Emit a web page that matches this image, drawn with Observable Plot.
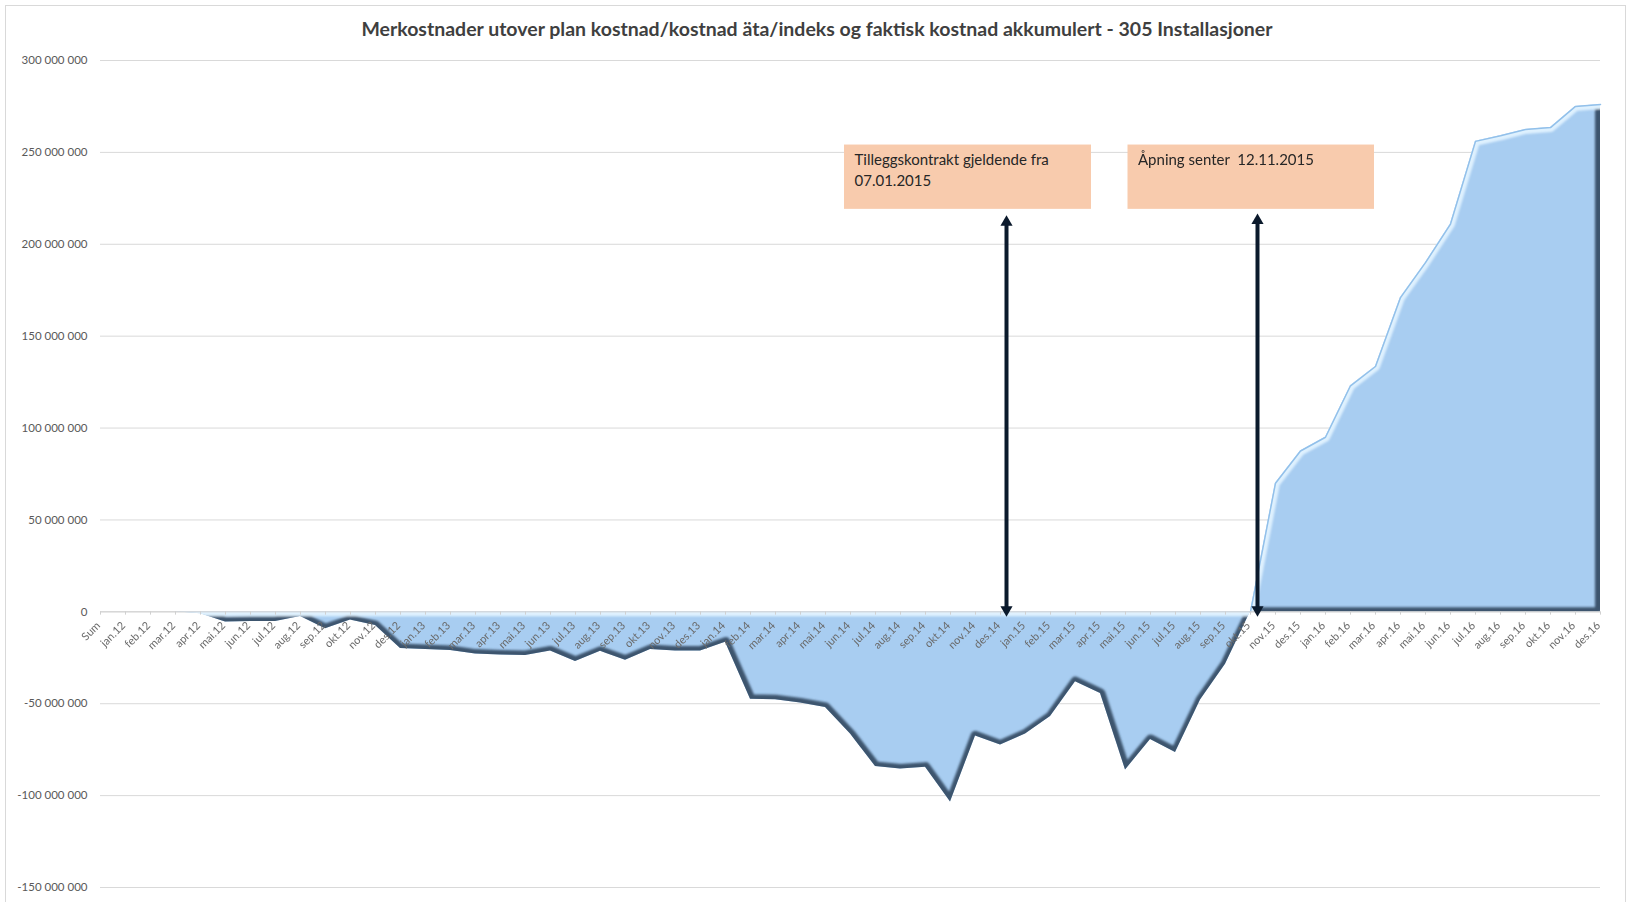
<!DOCTYPE html>
<html>
<head>
<meta charset="utf-8">
<script src="https://cdn.jsdelivr.net/npm/d3@7"></script>
<script src="https://cdn.jsdelivr.net/npm/@observablehq/plot@0.6"></script>
<style>
  body { margin: 0; background: #fff; font-family: Lato, "Open Sans", sans-serif; }
  #wrap { position: relative; width: 1627px; height: 902px; overflow: hidden; }
  #frame { position: absolute; left: 5px; top: 5px; width: 1621px; height: 1000px;
           border: 1px solid #d9d9d9; box-sizing: border-box; }
  #title { position: relative; height: 45px; box-sizing: border-box; padding: 18px 0 0 7px;
           text-align: center; font-weight: bold; font-size: 19.5px; line-height: 22px; color: #3f3f3f; }
  #chart { position: relative; }
</style>
</head>
<body>
<div id="wrap">
  <div id="frame"></div>
  <div id="title">Merkostnader utover plan kostnad/kostnad äta/indeks og faktisk kostnad akkumulert - 305 Installasjoner</div>
  <div id="chart"></div>
</div>
<script>
// Periods on the category axis
const periods = [
  "Sum",
  "jan.12", "feb.12", "mar.12", "apr.12", "mai.12", "jun.12", "jul.12", "aug.12", "sep.12", "okt.12", "nov.12", "des.12",
  "jan.13", "feb.13", "mar.13", "apr.13", "mai.13", "jun.13", "jul.13", "aug.13", "sep.13", "okt.13", "nov.13", "des.13",
  "jan.14", "feb.14", "mar.14", "apr.14", "mai.14", "jun.14", "jul.14", "aug.14", "sep.14", "okt.14", "nov.14", "des.14",
  "jan.15", "feb.15", "mar.15", "apr.15", "mai.15", "jun.15", "jul.15", "aug.15", "sep.15", "okt.15", "nov.15", "des.15",
  "jan.16", "feb.16", "mar.16", "apr.16", "mai.16", "jun.16", "jul.16", "aug.16", "sep.16", "okt.16", "nov.16", "des.16"
];

// Accumulated extra cost (NOK) per period
const merkostnad = [
  0,
  0, 0, 0, -1000000, -5500000, -5300000, -5200000, -2500000, -9200000, -4500000, -7500000, -20000000,
  -20500000, -21000000, -23000000, -23500000, -23700000, -21300000, -27000000, -21500000, -26300000, -20500000, -21300000, -21300000,
  -16500000, -47500000, -47800000, -49600000, -52000000, -66500000, -84200000, -85500000, -84500000, -103500000, -67500000, -72500000,
  -66500000, -57000000, -38000000, -44500000, -86000000, -69500000, -76500000, -48000000, -28500000, 0, 70000000, 87500000,
  95000000, 123000000, 133500000, 171000000, 190000000, 211000000, 256000000, 259000000, 262500000, 263500000, 275000000, 276000000
];

// Value axis ticks
const yTicks = [300000000, 250000000, 200000000, 150000000, 100000000, 50000000, 0, -50000000, -100000000, -150000000];

// Callout boxes and their arrows (positions in period index / NOK)
const noteText = ["Tilleggskontrakt gjeldende fra\n07.01.2015", "Åpning senter  12.11.2015"];
const noteX1 = [29.76, 41.1];
const noteX2 = [39.64, 50.96];
const noteTop = [254000000, 254000000];
const noteBottom = [219000000, 219000000];
const arrowX = [36.24, 46.28];
const arrowTop = [212000000, 213000000];

const rows = periods.map((period, i) => ({i, period, value: merkostnad[i]}));
const last = rows.length - 1;
const turn = merkostnad.findIndex((v, i) => i < last && merkostnad[i + 1] > 0);
const notes = noteText.map((text, k) => ({
  text, x1: noteX1[k], x2: noteX2[k], top: noteTop[k], bottom: noteBottom[k],
  ax: arrowX[k], atop: arrowTop[k]
}));

const fmt = v => (v < 0 ? "-" : "") + d3.format(",")(Math.abs(v)).replace(/,/g, " ");
const tickLen = 1800000;

// render hook that tags a mark's group with a class name
const tag = cls => (index, scales, values, dimensions, context, next) => {
  const g = next(index, scales, values, dimensions, context);
  if (g) g.classList.add(cls);
  return g;
};

const dark = "#3d556e";
const light = "#dff1fe";
const arrowColor = "#0b1a2c";

const chart = Plot.plot({
  width: 1627,
  height: 857,
  marginLeft: 100,
  marginRight: 27,
  marginTop: 15,
  marginBottom: 15,
  x: {domain: [0, 60], axis: null},
  y: {domain: [-150000000, 300000000], axis: null},
  style: {fontFamily: "Lato, 'Open Sans', sans-serif", background: "transparent", overflow: "visible"},
  marks: [
    Plot.ruleY(yTicks, {stroke: "#d9d9d9", strokeWidth: 1}),
    Plot.text(yTicks, {y: d => d, text: fmt, frameAnchor: "left", textAnchor: "end", dx: -13, fill: "#595959", fontSize: 11.5}),
    Plot.areaY(rows, {x: "i", y1: 0, y2: "value", fill: "#a8cdf1", render: tag("cost-area")}),
    // bevel shading: dark on edges facing down/right, light on edges facing up/left
    Plot.line(rows.filter(d => d.i <= turn), {x: "i", y: "value", z: null, stroke: dark, strokeWidth: 10, render: tag("bevel")}),
    Plot.ruleX([rows[last]], {x: "i", y1: 0, y2: "value", stroke: dark, strokeWidth: 11, render: tag("bevel")}),
    Plot.ruleY([0], {x1: turn, x2: last, stroke: dark, strokeWidth: 9, render: tag("bevel")}),
    Plot.line(rows.filter(d => d.i >= turn), {x: "i", y: "value", z: null, stroke: light, strokeWidth: 9, render: tag("bevel")}),
    Plot.ruleY([0], {x1: 0, x2: turn, stroke: light, strokeWidth: 9, render: tag("bevel")}),
    Plot.line(rows.filter(d => d.i >= turn), {x: "i", y: "value", z: null, stroke: "#92c0ea", strokeWidth: 1.5}),
    // category axis along zero
    Plot.ruleY([0], {x1: 0, x2: last, stroke: "#d0d0d0", strokeWidth: 1}),
    Plot.ruleX(rows, {x: "i", y1: 0, y2: -tickLen, stroke: "#d0d0d0"}),
    Plot.text(rows, {x: "i", y: 0, text: "period", rotate: -45, textAnchor: "end", dx: -2, dy: 12, fill: "#6a6a6a", fontSize: 11}),
    // callouts
    Plot.rect(notes, {x1: "x1", x2: "x2", y1: "bottom", y2: "top", fill: "#f8cbad"}),
    Plot.text(notes, {x: "x1", y: "top", text: "text", textAnchor: "start", lineAnchor: "top", dx: 10, dy: 6, fontSize: 15, lineHeight: 1.35, fill: "#262626"}),
    Plot.ruleX(notes, {x: "ax", y1: 0, y2: "atop", stroke: arrowColor, strokeWidth: 4}),
    Plot.dot(notes, {x: "ax", y: "atop", symbol: "triangle", r: 4.5, fill: arrowColor, stroke: "none"}),
    Plot.dot(notes, {x: "ax", y: 0, symbol: "triangle", rotate: 180, r: 4.5, dy: -2, fill: arrowColor, stroke: "none"})
  ]
});

// Clip the bevel strokes to the filled shape and soften them
(function bevel(svg) {
  const ns = "http://www.w3.org/2000/svg";
  const areaG = svg.querySelector("g.cost-area");
  const areaPath = areaG && areaG.querySelector("path");
  const bevels = svg.querySelectorAll("g.bevel");
  if (!areaPath || !bevels.length) return;
  const defs = document.createElementNS(ns, "defs");
  const clip = document.createElementNS(ns, "clipPath");
  clip.setAttribute("id", "area-clip");
  const cp = document.createElementNS(ns, "path");
  cp.setAttribute("d", areaPath.getAttribute("d"));
  const t = [areaG.getAttribute("transform"), areaPath.getAttribute("transform")].filter(Boolean).join(" ");
  if (t) cp.setAttribute("transform", t);
  clip.appendChild(cp);
  const filter = document.createElementNS(ns, "filter");
  filter.setAttribute("id", "bevel-soft");
  filter.setAttribute("x", "-5%"); filter.setAttribute("y", "-5%");
  filter.setAttribute("width", "110%"); filter.setAttribute("height", "110%");
  const blur = document.createElementNS(ns, "feGaussianBlur");
  blur.setAttribute("stdDeviation", "1.3");
  filter.appendChild(blur);
  defs.appendChild(clip);
  defs.appendChild(filter);
  svg.insertBefore(defs, svg.firstChild);
  const outer = document.createElementNS(ns, "g");
  outer.setAttribute("clip-path", "url(#area-clip)");
  const inner = document.createElementNS(ns, "g");
  inner.setAttribute("filter", "url(#bevel-soft)");
  outer.appendChild(inner);
  areaG.parentNode.insertBefore(outer, areaG.nextSibling);
  bevels.forEach(g => inner.appendChild(g));
})(chart);

document.getElementById("chart").appendChild(chart);
</script>
</body>
</html>
